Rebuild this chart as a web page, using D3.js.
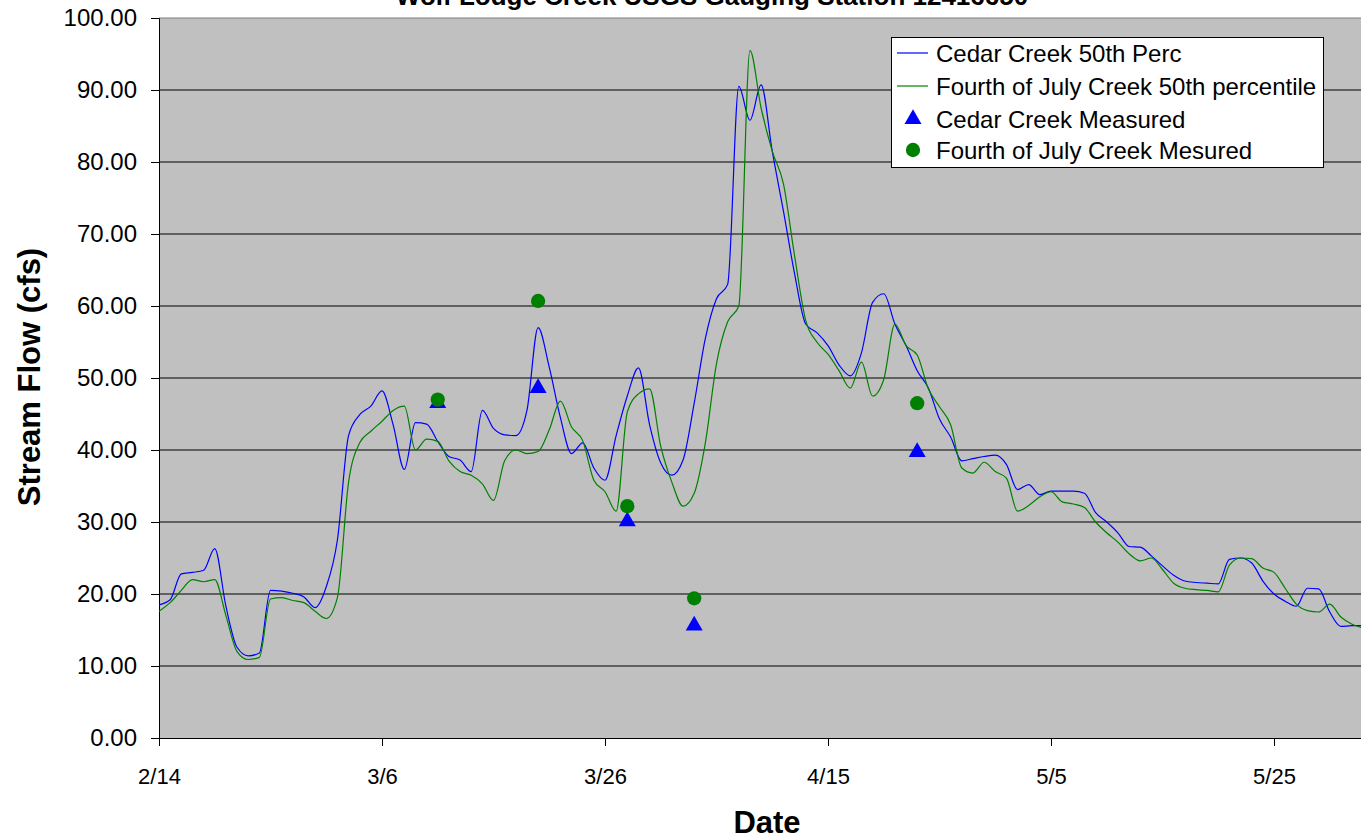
<!DOCTYPE html>
<html>
<head>
<meta charset="utf-8">
<script src="https://cdn.jsdelivr.net/npm/d3@7"></script>
<style>
  html, body { margin: 0; padding: 0; background: #ffffff; }
  svg { display: block; font-family: "Liberation Sans", Arial, sans-serif; }
</style>
</head>
<body>
<svg id="chart" width="1361" height="836"></svg>
<script>
// Daily median flows (cfs), one value per day starting 2/14
const startDate = "2007-02-14";
const cedarMedian = [
  18.5, 19.2, 22.8, 23.0, 23.3, 26.3, 18.3, 12.6, 11.4, 11.8,
  20.5, 20.4, 20.1, 19.6, 18.1, 21.0, 27.5, 42.0, 44.9, 46.1,
  48.2, 43.5, 37.3, 43.8, 43.6, 41.2, 39.1, 38.6, 37.0, 45.5,
  43.0, 42.1, 42.0, 45.5, 57.0, 51.5, 44.5, 39.5, 41.0, 37.5,
  35.8, 42.0, 47.5, 51.4, 43.5, 38.2, 36.5, 38.6, 46.5, 55.5,
  61.0, 63.0, 90.5, 85.8, 90.7, 81.5, 73.2, 64.5, 57.5, 56.3,
  54.5, 51.8, 50.3, 53.5, 60.5, 61.7, 57.5, 54.5, 51.0, 48.6,
  44.3, 41.8, 38.5, 38.8, 39.1, 39.3, 38.0, 34.5, 35.2, 33.8,
  34.3, 34.3, 34.3, 34.0, 31.3, 30.0, 28.5, 26.6, 26.5, 25.3,
  23.9, 22.6, 21.8, 21.6, 21.5, 21.4, 24.8, 25.0, 24.3, 21.8,
  20.0, 19.0, 18.3, 20.8, 20.7, 17.5, 15.5, 15.6, 15.6
];
const fourthMedian = [
  17.6, 18.8, 20.5, 22.0, 21.7, 22.0, 17.0, 12.0, 10.9, 11.2,
  19.3, 19.5, 19.1, 18.8, 17.6, 16.6, 19.5, 35.5, 41.0, 42.6,
  44.0, 45.5, 46.1, 40.0, 41.5, 41.2, 38.5, 37.0, 36.5, 35.3,
  33.0, 38.5, 40.0, 39.5, 39.8, 42.8, 46.8, 43.2, 41.3, 35.8,
  34.2, 31.5, 45.3, 47.8, 48.5, 40.5, 35.5, 32.2, 34.0, 41.0,
  52.0, 57.8, 60.0, 95.5, 87.5, 81.5, 77.0, 67.0, 58.0, 55.0,
  53.3, 51.0, 48.6, 52.2, 47.5, 49.8, 57.5, 54.5, 53.2, 48.5,
  46.0, 43.5, 37.5, 36.8, 38.3, 37.0, 36.1, 31.5, 32.3, 33.5,
  34.2, 32.8, 32.5, 32.0, 30.0, 28.5, 27.2, 25.6, 24.6, 25.0,
  23.4, 21.5, 20.8, 20.6, 20.5, 20.3, 24.0, 25.0, 24.9, 23.6,
  23.0, 20.8, 18.6, 17.7, 17.5, 18.6, 16.8, 15.8, 15.3
];

// Field measurements
const measuredDates = ["2007-03-11", "2007-03-20", "2007-03-28", "2007-04-03", "2007-04-23"];
const cedarMeasured = [46.5, 48.6, 30.1, 15.6, 39.7];
const fourthMeasured = [47.0, 60.7, 32.2, 19.4, 46.5];

const xTickDates = ["2007-02-14", "2007-03-06", "2007-03-26", "2007-04-15", "2007-05-05", "2007-05-25"];
const yTicks = [0, 10, 20, 30, 40, 50, 60, 70, 80, 90, 100];

const legendLabels = [
  "Cedar Creek 50th Perc",
  "Fourth of July Creek 50th percentile",
  "Cedar Creek Measured",
  "Fourth of July Creek Mesured"
];

const title = "Wolf Lodge Creek USGS Gauging Station 12416650";

const parse = d3.utcParse("%Y-%m-%d");
const start = parse(startDate);
const dayDate = i => d3.utcDay.offset(start, i);

const plot = { left: 159, top: 18, bottom: 738, right: 1361 };
const pxPerDay = 11.15;
const nDays = 108;

const x = d3.scaleUtc()
  .domain([start, d3.utcDay.offset(start, nDays)])
  .range([plot.left, plot.left + nDays * pxPerDay]);
const y = d3.scaleLinear().domain([0, 100]).range([plot.bottom, plot.top]);

const svg = d3.select("#chart");

// plot area background
svg.append("rect")
  .attr("x", plot.left).attr("y", plot.top)
  .attr("width", plot.right - plot.left + 5).attr("height", plot.bottom - plot.top)
  .attr("fill", "#c0c0c0");

// horizontal gridlines
svg.append("g").selectAll("line")
  .data(yTicks.filter(v => v > 0))
  .join("line")
  .attr("x1", plot.left).attr("x2", plot.right + 5)
  .attr("y1", d => y(d)).attr("y2", d => y(d))
  .attr("stroke", d => d === 100 ? "#808080" : "#000")
  .attr("stroke-width", 1.2);

// y axis
const yAxis = svg.append("g")
  .attr("transform", `translate(${plot.left},0)`)
  .call(d3.axisLeft(y).tickValues(yTicks).tickFormat(d3.format(".2f")).tickSize(8).tickPadding(14));
yAxis.select(".domain").attr("stroke", "#000");
yAxis.selectAll(".tick line").attr("stroke", "#000");
yAxis.selectAll(".tick text")
  .attr("font-size", 24).attr("fill", "#000")
  .attr("font-family", "'Liberation Sans', Arial, sans-serif");

// x axis
const xAxis = svg.append("g")
  .attr("transform", `translate(0,${plot.bottom})`)
  .call(d3.axisBottom(x).tickValues(xTickDates.map(parse)).tickFormat(d3.utcFormat("%-m/%-d")).tickSize(8).tickPadding(22));
xAxis.select(".domain").attr("stroke", "#000");
xAxis.selectAll(".tick line").attr("stroke", "#000");
xAxis.selectAll(".tick text")
  .attr("font-size", 22).attr("fill", "#000")
  .attr("font-family", "'Liberation Sans', Arial, sans-serif");

// daily median lines
const line = d3.line()
  .x((d, i) => x(dayDate(i)))
  .y(d => y(d))
  .curve(d3.curveMonotoneX);

svg.append("path").datum(cedarMedian)
  .attr("d", line).attr("fill", "none")
  .attr("stroke", "#0000ff").attr("stroke-width", 1.2);
svg.append("path").datum(fourthMedian)
  .attr("d", line).attr("fill", "none")
  .attr("stroke", "#008000").attr("stroke-width", 1.2);

// measured points
const tri = d3.symbol().type(d3.symbolTriangle).size(125);
const dot = d3.symbol().type(d3.symbolCircle).size(160);

svg.append("g").selectAll("path")
  .data(cedarMeasured)
  .join("path")
  .attr("d", tri)
  .attr("transform", (d, i) => `translate(${x(parse(measuredDates[i]))},${y(d)})`)
  .attr("fill", "#0000ff");

svg.append("g").selectAll("path")
  .data(fourthMeasured)
  .join("path")
  .attr("d", dot)
  .attr("transform", (d, i) => `translate(${x(parse(measuredDates[i]))},${y(d)})`)
  .attr("fill", "#008000");

// legend
const legend = svg.append("g").attr("transform", "translate(891,37)");
legend.append("rect")
  .attr("x", 0.5).attr("y", 0.5).attr("width", 432).attr("height", 130)
  .attr("fill", "#ffffff").attr("stroke", "#000").attr("stroke-width", 1);
const rowY = [16, 49, 82, 113];
const legendItems = legend.selectAll("g.item")
  .data(legendLabels)
  .join("g").attr("class", "item")
  .attr("transform", (d, i) => `translate(0,${rowY[i]})`);
legendItems.append("text")
  .attr("x", 45).attr("y", 8.5)
  .attr("font-size", 24).attr("fill", "#000")
  .text(d => d);
legendItems.filter((d, i) => i === 0).append("line")
  .attr("x1", 6).attr("x2", 37).attr("y1", 0).attr("y2", 0)
  .attr("stroke", "#0000ff").attr("stroke-width", 1.2);
legendItems.filter((d, i) => i === 1).append("line")
  .attr("x1", 6).attr("x2", 37).attr("y1", 0).attr("y2", 0)
  .attr("stroke", "#008000").attr("stroke-width", 1.2);
legendItems.filter((d, i) => i === 2).append("path")
  .attr("d", tri).attr("transform", "translate(22,0)").attr("fill", "#0000ff");
legendItems.filter((d, i) => i === 3).append("path")
  .attr("d", dot).attr("transform", "translate(22,0)").attr("fill", "#008000");

// titles
svg.append("text")
  .attr("x", 712).attr("y", 5)
  .attr("text-anchor", "middle")
  .attr("font-size", 26).attr("font-weight", "bold")
  .text(title);

svg.append("text")
  .attr("transform", "translate(40,377) rotate(-90)")
  .attr("text-anchor", "middle")
  .attr("font-size", 31).attr("font-weight", "bold")
  .text("Stream Flow (cfs)");

svg.append("text")
  .attr("x", 767).attr("y", 833)
  .attr("text-anchor", "middle")
  .attr("font-size", 31).attr("font-weight", "bold")
  .text("Date");
</script>
</body>
</html>
